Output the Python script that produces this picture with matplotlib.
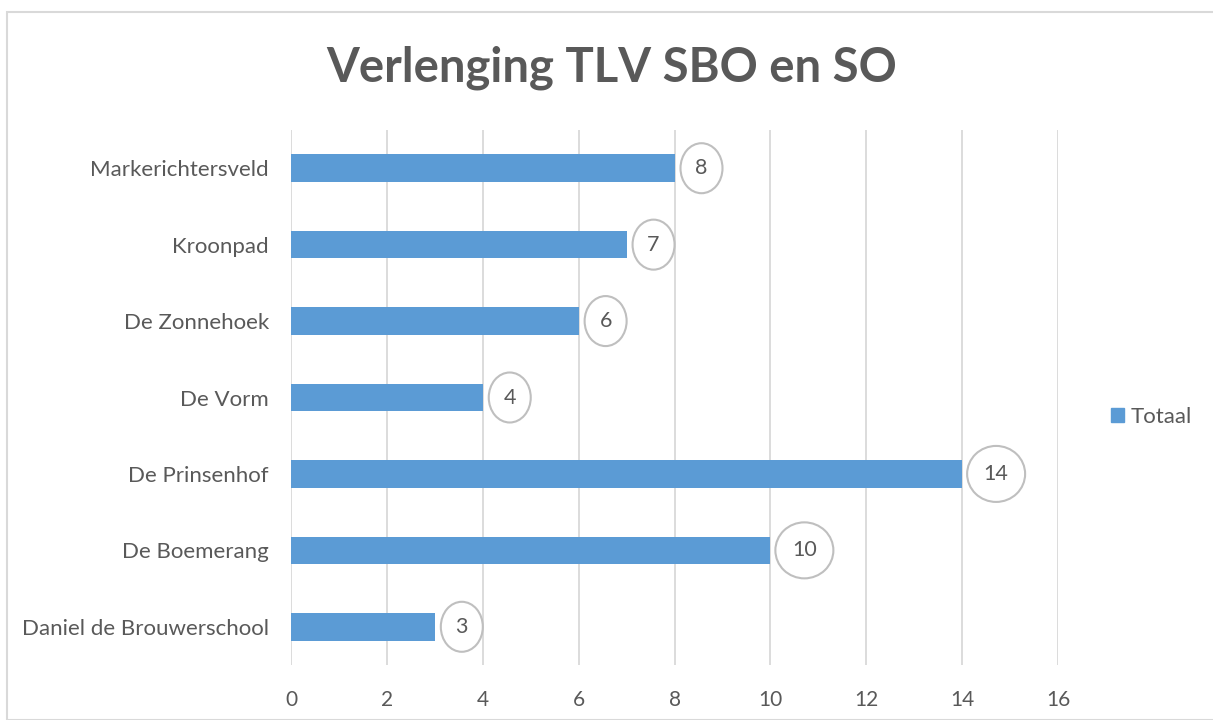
import matplotlib.pyplot as plt
import matplotlib.transforms as mtransforms
from matplotlib.patches import Rectangle, Ellipse

schools = ["Daniel de Brouwerschool", "De Boemerang", "De Prinsenhof", "De Vorm",
           "De Zonnehoek", "Kroonpad", "Markerichtersveld"]
totaal = [3, 10, 14, 4, 6, 7, 8]
xticks = [0, 2, 4, 6, 8, 10, 12, 14, 16]

plt.rcParams['font.family'] = ['Lato', 'DejaVu Sans']
txt = '#595959'
blue = '#5B9BD5'

fig = plt.figure(figsize=(12.13, 7.2), dpi=100)
ax = fig.add_axes([291 / 1213, 55 / 720, (1058 - 291) / 1213, (665 - 130) / 720])

y = range(len(schools))
ax.barh(y, totaal, height=0.36, color=blue, zorder=3, label='Totaal')

ax.set_xlim(0, 16)
ax.set_ylim(-0.5, len(schools) - 0.5)

# data labels in an ellipse, size in pixels
for yi, v in zip(y, totaal):
    n = len(str(v))
    w, h = 26 + 16 * n, 44 + 6 * n
    dx = 20 + 7 * n
    tr = fig.dpi_scale_trans + mtransforms.ScaledTranslation(v, yi, ax.transData)
    ax.add_patch(Ellipse((dx / 100, 0), w / 100, h / 100, transform=tr, fc='white',
                         ec='#BFBFBF', lw=1.5, zorder=5, clip_on=False))
    ax.annotate(str(v), (v, yi), xytext=(dx, 0), textcoords='offset pixels',
                ha='center', va='center', fontsize=15.5, color=txt, zorder=6)

ax.set_xticks(xticks)
ax.set_yticks(list(y))
ax.set_yticklabels(schools)
ax.tick_params(axis='both', length=0, colors=txt)
ax.tick_params(axis='x', pad=18, labelsize=15)
ax.tick_params(axis='y', pad=16, labelsize=16)
ax.grid(axis='x', color='#D9D9D9', lw=1.3, zorder=0)
for s in ax.spines.values():
    s.set_visible(False)

fig.text(612 / 1213, 1 - 68 / 720, 'Verlenging TLV SBO en SO', ha='center', va='center',
         fontsize=34, fontweight='bold', color=txt)

leg = fig.legend(handles=[Rectangle((0, 0), 1, 1, color=blue)], labels=['Totaal'],
                 loc='center left', bbox_to_anchor=(1091 / 1213, 1 - 417 / 720), frameon=False,
                 fontsize=16, handlelength=0.6, handleheight=0.6, handletextpad=0.3)
for t in leg.get_texts():
    t.set_color(txt)

fig.patches.append(Rectangle((7 / 1213, 0), 1.1, 1 - 12 / 720, transform=fig.transFigure,
                             fill=False, ec='#D9D9D9', lw=1.5))

fig.savefig('out.png', dpi=100)
